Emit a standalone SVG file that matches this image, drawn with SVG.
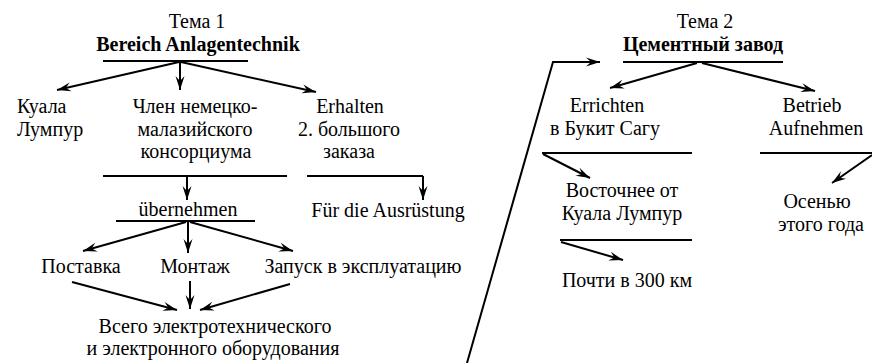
<svg xmlns="http://www.w3.org/2000/svg" width="872" height="363" viewBox="0 0 872 363">
  <style>
    text { font-family: "Liberation Serif", "Times New Roman", serif; font-size: 20px; fill: #000; }
    .b { font-weight: bold; }
    .m { text-anchor: middle; }
    .ln { stroke: #000; stroke-width: 2; fill: none; }
    .ar { stroke: #000; stroke-width: 2; fill: none; marker-end: url(#tip); }
  </style>
  <defs>
    <marker id="tip" markerUnits="userSpaceOnUse" markerWidth="16" markerHeight="12" viewBox="-15 -6 16 12" refX="0" refY="0" orient="auto">
      <path d="M0,0 L-14,-4.5 L-9,0 L-14,4.5 Z" fill="#000"/>
    </marker>
  </defs>
  <rect width="872" height="363" fill="#fff"/>

  <!-- Topic 1 -->
  <g id="topic1">
    <text class="m" x="197" y="28">Тема 1</text>
    <text class="m b" x="198" y="51">Bereich Anlagentechnik</text>
  </g>
  <g id="kuala">
    <text x="17" y="113">Куала</text>
    <text x="17" y="136">Лумпур</text>
  </g>
  <g id="member">
    <text class="m" x="195" y="113">Член немецко-</text>
    <text class="m" x="195" y="136">малазийского</text>
    <text class="m" x="196" y="158">консорциума</text>
  </g>
  <g id="erhalten">
    <text class="m" x="350" y="113">Erhalten</text>
    <text class="m" x="349" y="136">2. большого</text>
    <text class="m" x="349" y="158">заказа</text>
  </g>
  <g id="uebernehmen">
    <text class="m" x="188" y="216">übernehmen</text>
  </g>
  <g id="ausruestung">
    <text class="m" x="388" y="217">Für die Ausrüstung</text>
  </g>
  <g id="postavka">
    <text class="m" x="81" y="273">Поставка</text>
  </g>
  <g id="montazh">
    <text class="m" x="195" y="273">Монтаж</text>
  </g>
  <g id="zapusk">
    <text class="m" x="363" y="273">Запуск в эксплуатацию</text>
  </g>
  <g id="equipment">
    <text class="m" x="215" y="333">Всего электротехнического</text>
    <text class="m" x="213" y="355">и электронного оборудования</text>
  </g>

  <!-- Topic 2 -->
  <g id="topic2">
    <text class="m" x="705" y="28">Тема 2</text>
    <text class="m b" x="703" y="51">Цементный завод</text>
  </g>
  <g id="errichten">
    <text class="m" x="607" y="112">Errichten</text>
    <text class="m" x="605" y="135">в Букит Сагу</text>
  </g>
  <g id="betrieb">
    <text class="m" x="812" y="112">Betrieb</text>
    <text class="m" x="816" y="135">Aufnehmen</text>
  </g>
  <g id="east">
    <text class="m" x="622" y="197">Восточнее от</text>
    <text class="m" x="622" y="220">Куала Лумпур</text>
  </g>
  <g id="distance">
    <text class="m" x="627" y="287">Почти в 300 км</text>
  </g>
  <g id="autumn">
    <text class="m" x="817" y="208">Осенью</text>
    <text class="m" x="821" y="231">этого года</text>
  </g>

  <g id="connectors">
    <!-- topic 1 fan-out -->
    <line class="ln" x1="103" y1="61" x2="248" y2="61"/>
    <line class="ar" x1="179" y1="62" x2="57" y2="90"/>
    <line class="ar" x1="180" y1="62" x2="180" y2="90"/>
    <line class="ar" x1="181" y1="62" x2="316" y2="92"/>
    <!-- member / order -->
    <line class="ln" x1="103" y1="176" x2="287" y2="176"/>
    <line class="ar" x1="187" y1="176" x2="187" y2="200"/>
    <line class="ln" x1="307" y1="176" x2="423" y2="176"/>
    <line class="ar" x1="423" y1="176" x2="423" y2="200"/>
    <!-- übernehmen fan-out -->
    <line class="ln" x1="116" y1="221" x2="255" y2="221"/>
    <line class="ar" x1="186" y1="222" x2="83" y2="251"/>
    <line class="ar" x1="188" y1="222" x2="188" y2="253"/>
    <line class="ar" x1="190" y1="222" x2="293" y2="251"/>
    <!-- fan-in to equipment -->
    <line class="ar" x1="72" y1="282" x2="177" y2="310"/>
    <line class="ar" x1="190" y1="281" x2="190" y2="309"/>
    <line class="ar" x1="290" y1="284" x2="200" y2="310"/>
    <!-- link between topics -->
    <polyline class="ar" points="467,363 553,62 600,62"/>
    <!-- topic 2 fan-out -->
    <line class="ln" x1="623" y1="62" x2="783" y2="62"/>
    <line class="ar" x1="697" y1="63" x2="610" y2="88"/>
    <line class="ar" x1="702" y1="63" x2="815" y2="91"/>
    <!-- errichten chain -->
    <line class="ln" x1="542" y1="153" x2="692" y2="153"/>
    <line class="ar" x1="543" y1="154" x2="590" y2="178"/>
    <line class="ln" x1="560" y1="240" x2="692" y2="240"/>
    <line class="ar" x1="561" y1="242" x2="623" y2="260"/>
    <!-- betrieb chain -->
    <line class="ln" x1="760" y1="153" x2="872" y2="153"/>
    <line class="ar" x1="872" y1="155" x2="832" y2="183"/>
  </g>
</svg>
